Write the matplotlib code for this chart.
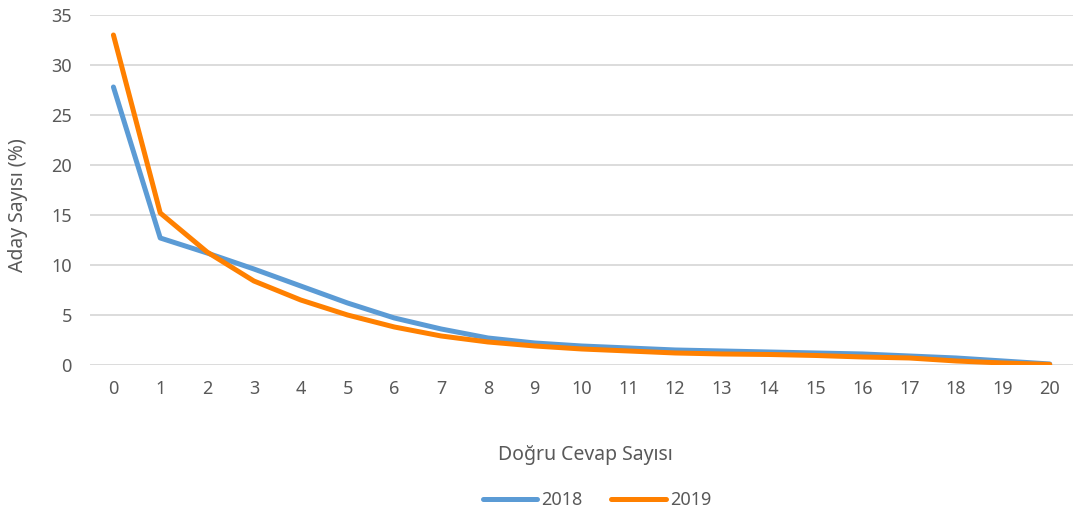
import matplotlib
matplotlib.use("Agg")
import matplotlib.pyplot as plt
from matplotlib.lines import Line2D

correct_answers = list(range(0, 21))
share_2018 = [27.8, 12.7, 11.2, 9.6, 7.9, 6.2, 4.7, 3.6, 2.7, 2.2, 1.9, 1.7, 1.5, 1.4, 1.3, 1.2, 1.1, 0.9, 0.7, 0.4, 0.1]
share_2019 = [33.0, 15.2, 11.3, 8.4, 6.5, 5.0, 3.8, 2.9, 2.3, 1.9, 1.6, 1.4, 1.2, 1.1, 1.05, 0.95, 0.8, 0.7, 0.4, 0.2, 0.05]
y_ticks = [0, 5, 10, 15, 20, 25, 30, 35]
series_labels = ["2018", "2019"]

plt.rcParams['font.family'] = ['Noto Sans', 'DejaVu Sans']
text_color = "#595959"
c2018 = "#5B9BD5"
c2019 = "#FF8000"
fs = 13

fig = plt.figure(figsize=(10.78, 5.15), dpi=100)
ax = fig.add_axes([0.0835, 0.2913, 0.912, 0.6796])

ax.plot(correct_answers, share_2018, color=c2018, lw=3.6, solid_capstyle='round', solid_joinstyle='round', zorder=3)
ax.plot(correct_answers, share_2019, color=c2019, lw=3.6, solid_capstyle='round', solid_joinstyle='round', zorder=4)

ax.set_xlim(-0.5, 20.5)
ax.set_ylim(0, 35)
ax.set_yticks(y_ticks)
ax.set_xticks(correct_answers)
ax.grid(axis='y', color="#D9D9D9", lw=1.3)
ax.set_axisbelow(True)
for s in ax.spines.values():
    s.set_visible(False)
ax.tick_params(axis='both', length=0, labelsize=fs, colors=text_color, labelcolor=text_color)
ax.tick_params(axis='y', pad=13)
ax.tick_params(axis='x', pad=11)

fig.text(18/1078, 1 - 205/515, "Aday Sayısı (%)", rotation=90, ha='center', va='center',
         fontsize=14, color=text_color)
fig.text(585/1078, 1 - 455/515, "Doğru Cevap Sayısı", ha='center', va='center',
         fontsize=14, color=text_color)

handles = [Line2D([0], [0], color=c2018, lw=3.6, solid_capstyle='round'),
           Line2D([0], [0], color=c2019, lw=3.6, solid_capstyle='round')]
leg = fig.legend(handles, series_labels, loc='center', bbox_to_anchor=(597/1078, 1 - 500/515),
                 ncol=2, frameon=False, fontsize=fs, handlelength=3.0, handletextpad=0.25,
                 columnspacing=1.6, labelcolor=text_color)

fig.savefig("out.png", dpi=100)
